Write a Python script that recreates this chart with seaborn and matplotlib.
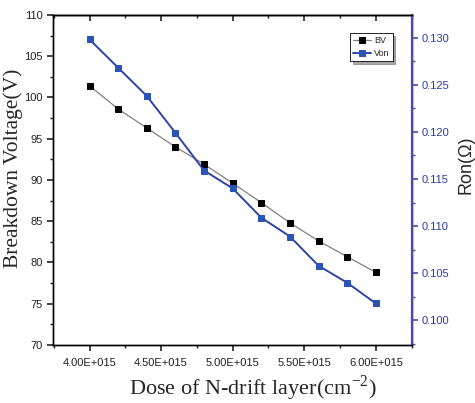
import numpy as np
import pandas as pd
import matplotlib
matplotlib.use("Agg")
import matplotlib.pyplot as plt
import seaborn as sns
from matplotlib.ticker import MultipleLocator, FuncFormatter

dose = [4.0e15, 4.2e15, 4.4e15, 4.6e15, 4.8e15, 5.0e15, 5.2e15, 5.4e15, 5.6e15, 5.8e15, 6.0e15]
bv = [101.4, 98.6, 96.3, 94.0, 91.9, 89.6, 87.25, 84.8, 82.6, 80.7, 78.8]
von = [0.1298, 0.1268, 0.1238, 0.1199, 0.1159, 0.1140, 0.1109, 0.1089, 0.1058, 0.1040, 0.1018]
xticks = [4.0e15, 4.5e15, 5.0e15, 5.5e15, 6.0e15]
xticklabels = ["4.00E+015", "4.50E+015", "5.00E+015", "5.50E+015", "6.00E+015"]

sns.set_theme(style="white")
plt.rcParams['font.family'] = ['Liberation Sans', 'DejaVu Sans']
plt.rcParams['mathtext.fontset'] = 'custom'
plt.rcParams['mathtext.rm'] = 'Liberation Serif'

df = pd.DataFrame({"dose": dose, "BV": bv, "Von": von})

fig = plt.figure(figsize=(4.75, 4.03), dpi=100)
ax = fig.add_axes([0.1116, 0.144, 0.755, 0.819])
ax2 = ax.twinx()

blue = "#2b52b5"
sns.lineplot(data=df, x="dose", y="BV", ax=ax, color="#808080", lw=0.9,
             marker="s", markersize=4, markerfacecolor="black", markeredgecolor="black",
             label="BV", legend=False)
sns.lineplot(data=df, x="dose", y="Von", ax=ax2, color="#2a45a8", lw=1.4,
             marker="s", markersize=4, markerfacecolor=blue, markeredgecolor=blue,
             label="Von", legend=False)

ax.set_xlim(3.745e15, 6.25e15)
ax.set_ylim(70, 110)
ax2.set_ylim(0.0974, 0.1324)

ax.set_xticks(xticks)
ax.set_xticklabels(xticklabels)
ax.xaxis.set_minor_locator(MultipleLocator(0.25e15))
ax.yaxis.set_major_locator(MultipleLocator(5))
ax.yaxis.set_minor_locator(MultipleLocator(2.5))
ax2.yaxis.set_major_locator(MultipleLocator(0.005))
ax2.yaxis.set_minor_locator(MultipleLocator(0.0025))
ax2.yaxis.set_major_formatter(FuncFormatter(lambda v, p: f"{v:.3f}"))

for a in (ax, ax2):
    for s in a.spines.values():
        s.set_linewidth(1.0)
        s.set_color("black")
        s.set_visible(True)
ax2.spines['right'].set_color("#4a4ab0")
ax2.spines['right'].set_linewidth(1.6)

ax.tick_params(axis='both', which='both', bottom=True, left=True, top=False, right=False,
               direction='out', color='#222222')
ax.tick_params(which='major', labelsize=8, length=4.5, width=1.2, pad=3, labelcolor='#222222')
ax.tick_params(which='minor', length=2.5, width=1.0)
ax.tick_params(axis='x', which='major', pad=5)

secx = ax.secondary_xaxis('top')
secx.set_xticks(xticks)
secx.set_xticklabels([])
secx.xaxis.set_minor_locator(MultipleLocator(0.25e15))
secx.tick_params(which='both', top=True, direction='in', color='#222222')
secx.tick_params(which='major', length=4.5, width=1.2)
secx.tick_params(which='minor', length=2.5, width=1.0)
secx.spines['top'].set_linewidth(1.0)

ax2.tick_params(axis='y', which='both', right=True, left=False, direction='out', color="#4a4ab0")
ax2.tick_params(axis='y', which='major', labelsize=8, length=4.5, width=1.2, labelcolor="#2a3aa8", pad=3)
ax2.tick_params(axis='y', which='minor', length=2.5, width=1.0)

ax.set_xlabel("Dose of N-drift layer(cm$^{\\mathregular{-2}}$)", family="Liberation Serif", fontsize=16)
ax.set_ylabel("Breakdown Voltage(V)", family="Liberation Serif", fontsize=15.5)
ax2.set_ylabel("Ron(Ω)", fontsize=13)
ax.xaxis.set_label_coords(0.556, -0.087)
ax.yaxis.set_label_coords(-0.083, 0.536)
ax2.yaxis.set_label_coords(1.128, 0.545)

h1, l1 = ax.get_legend_handles_labels()
h2, l2 = ax2.get_legend_handles_labels()
leg = ax2.legend(h1 + h2, l1 + l2, loc="upper right", bbox_to_anchor=(0.947, 0.945),
                 fontsize=6.5, frameon=True, shadow=True, fancybox=False,
                 handlelength=2.0, handletextpad=0.3, borderpad=0.35, labelspacing=0.4,
                 borderaxespad=0, framealpha=1)
leg.get_frame().set_edgecolor("black")
leg.get_frame().set_linewidth(0.6)

fig.savefig("out.png", dpi=100)
